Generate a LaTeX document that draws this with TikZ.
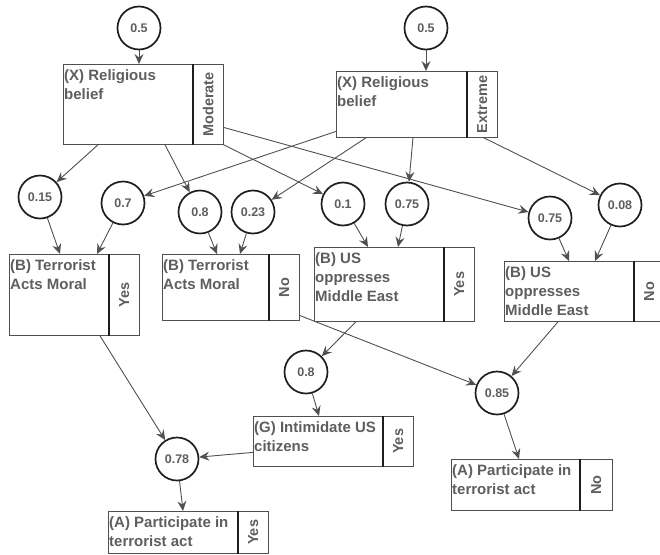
\documentclass[tikz,border=0pt]{standalone}
\usepackage{fontspec}
\setmainfont{Liberation Sans}
\usepackage{tikz}
\usetikzlibrary{arrows.meta,positioning}
\definecolor{eText}{HTML}{5E5E5E}
\definecolor{eLine}{HTML}{505050}
\definecolor{eRing}{HTML}{1E1E1E}
\tikzset{p/.style={circle, draw=eRing, line width=1.7pt, fill=white,
  inner sep=0pt, minimum size=43, text=eText,
  font=\fontsize{12.5}{14}\selectfont\bfseries}}
\tikzset{bx/.style={draw=eLine, line width=0.8pt, anchor=north west, inner sep=0pt}}
\tikzset{tg/.style={bx, minimum width=30, text=eText,
  font=\fontsize{14.5}{17}\selectfont\bfseries}}
\tikzset{lb/.style={anchor=north west, align=left, inner xsep=1pt,
  inner ysep=5pt, text=eText, font=\fontsize{15}{19}\selectfont\bfseries}}
\tikzset{sp/.style={draw, line width=1.8pt, eRing}}
\tikzset{a/.style={draw, line width=0.9pt, eLine,
  -{Stealth[length=10pt,width=9pt,inset=3.5pt]}}}

\begin{document}
\begin{tikzpicture}[x=1pt,y=-1pt]
        \useasboundingbox (0,0) rectangle (660,554);
        %% religious belief
        \node (pm) at (139,28) [p] {0.5};
        \node (pe) at (426,28) [p] {0.5};
        \node (xm) at (63,64) [bx, minimum width=129, minimum height=80] {};
        \node (xmt) at (xm.north east) [tg, minimum height=80] {\rotatebox{90}{Moderate}};
        \node (xml) at (xm.north west) [lb] {(X) Religious\\belief};
        \node (xe) at (336,71) [bx, minimum width=130, minimum height=66] {};
        \node (xet) at (xe.north east) [tg, minimum height=66] {\rotatebox{90}{Extreme}};
        \node (xel) at (xe.north west) [lb] {(X) Religious\\belief};
        \draw [sp] (xm.north east) -- (xm.south east);
        \draw [sp] (xe.north east) -- (xe.south east);
        \draw [a] (pm) -- (pm |- xm.north);
        \draw [a] (pe) -- (pe |- xe.north);
        %% conditional probabilities
        \node (c1) at (40,197) [p] {0.15};
        \node (c2) at (123,203) [p] {0.7};
        \node (c3) at (200,212) [p] {0.8};
        \node (c4) at (253,212) [p] {0.23};
        \node (c5) at (343,204) [p] {0.1};
        \node (c6) at (407,204) [p] {0.75};
        \node (c7) at (550,218) [p] {0.75};
        \node (c8) at (620,205) [p] {0.08};
        \draw [a] ([xshift=35]xm.south west) -- (c1);
        \draw [a] ([xshift=102]xm.south west) -- (c3);
        \draw [a] ([yshift=-23]xmt.east) -- (c7);
        \draw [a] (xmt.south east) -- (c5);
        \draw [a] ([yshift=-27]xe.west) -- (c2);
        \draw [a] ([xshift=30]xe.south west) -- (c4);
        \draw [a] ([xshift=77]xe.south west) -- (c6);
        \draw [a] ([xshift=17]xet.south west) -- (c8);
        %% B nodes
        \node (by) at (9,254) [bx, minimum width=99, minimum height=81] {};
        \node (byt) at (by.north east) [tg, minimum height=81] {\rotatebox{90}{Yes}};
        \node (byl) at (by.north west) [lb] {(B) Terrorist\\Acts Moral};
        \node (bn) at (162,254) [bx, minimum width=106, minimum height=66] {};
        \node (bnt) at (bn.north east) [tg, minimum height=66] {\rotatebox{90}{No}};
        \node (bnl) at (bn.north west) [lb] {(B) Terrorist\\Acts Moral};
        \node (uy) at (314,247) [bx, minimum width=129, minimum height=74] {};
        \node (uyt) at (uy.north east) [tg, minimum height=74] {\rotatebox{90}{Yes}};
        \node (uyl) at (uy.north west) [lb] {(B) US\\oppresses\\Middle East};
        \node (un) at (504,261) [bx, minimum width=129, minimum height=60] {};
        \node (unt) at (un.north east) [tg, minimum height=60] {\rotatebox{90}{No}};
        \node (unl) at (un.north west) [lb] {(B) US\\oppresses\\Middle East};
        \draw [sp] (by.north east) -- (by.south east);
        \draw [sp] (bn.north east) -- (bn.south east);
        \draw [sp] (uy.north east) -- (uy.south east);
        \draw [sp] (un.north east) -- (un.south east);
        \draw [a] (c1) -- ([xshift=51]by.north west);
        \draw [a] (c2) -- ([xshift=88]by.north west);
        \draw [a] (c3) -- ([xshift=55]bn.north west);
        \draw [a] (c4) -- ([xshift=78]bn.north west);
        \draw [a] (c5) -- ([xshift=54]uy.north west);
        \draw [a] (c6) -- ([xshift=84]uy.north west);
        \draw [a] (c7) -- ([xshift=65]un.north west);
        \draw [a] (c8) -- ([xshift=91]un.north west);
        %% G and A nodes
        \node (cg) at (306,372) [p] {0.8};
        \node (cn) at (497,393) [p] {0.85};
        \node (cy) at (177,459) [p] {0.78};
        \node (g) at (253,416) [bx, minimum width=129, minimum height=50] {};
        \node (gt) at (g.north east) [tg, minimum height=50] {\rotatebox{90}{Yes}};
        \node (gl) at (g.north west) [lb] {(G) Intimidate US\\citizens};
        \node (ay) at (108,511) [bx, minimum width=129, minimum height=42] {};
        \node (ayt) at (ay.north east) [tg, minimum height=42] {\rotatebox{90}{Yes}};
        \node (ayl) at (ay.north west) [lb] {(A) Participate in\\terrorist act};
        \node (an) at (451,459) [bx, minimum width=128, minimum height=51] {};
        \node (ant) at (an.north east) [tg, minimum width=32, minimum height=51] {\rotatebox{90}{No}};
        \node (anl) at (an.north west) [lb] {(A) Participate in\\terrorist act};
        \draw [sp] (g.north east) -- (g.south east);
        \draw [sp] (ay.north east) -- (ay.south east);
        \draw [sp] (an.north east) -- (an.south east);
        \draw [a] ([xshift=91]by.south west) -- (cy);
        \draw [a] ([yshift=-28]bnt.east) -- (cn);
        \draw [a] ([xshift=42]uy.south west) -- (cg);
        \draw [a] ([xshift=54]un.south west) -- (cn);
        \draw [a] (cg) -- ([xshift=66]g.north west);
        \draw [a] ([yshift=-11]g.west) -- (cy);
        \draw [a] (cy) -- ([xshift=75]ay.north west);
        \draw [a] (cn) -- ([xshift=68]an.north west);
\end{tikzpicture}
\end{document}
